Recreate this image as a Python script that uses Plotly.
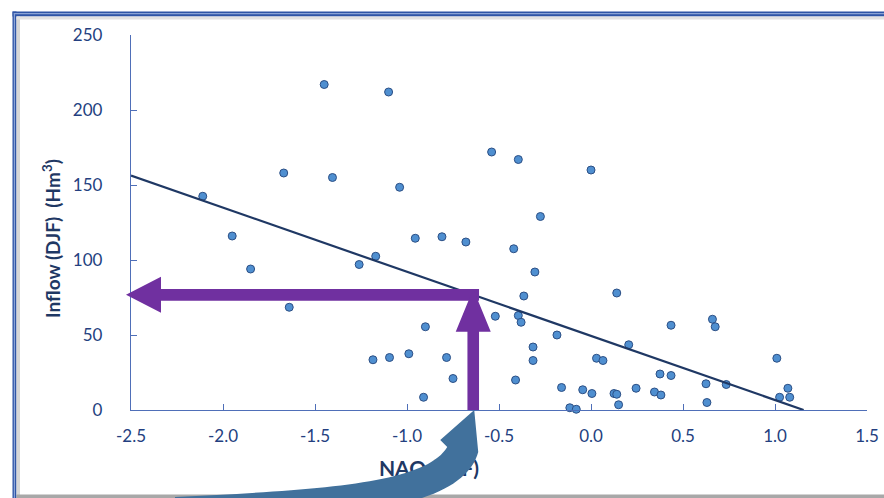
import plotly.graph_objects as go

# ---- data ----
nao = [-2.11, -1.95, -1.85, -1.64, -1.67, -1.45, -1.405, -1.10, -1.04, -0.54,
       -0.395, 0.0, -0.275, -0.955, -0.81, -0.68, -0.42, -1.26, -1.17, -0.305,
       -0.365, -0.52, -0.395, -0.38, -0.185, -0.90, -1.185, -1.095, -0.99, -0.785,
       -0.315, -0.315, 0.03, -0.75, -0.41, -0.91, -0.16, -0.045, 0.005, -0.115,
       -0.08, 0.14, 0.435, 0.66, 0.675, 0.205, 0.065, 1.01, 0.375, 0.435,
       0.625, 0.735, 0.245, 0.345, 0.38, 0.125, 0.14, 0.15, 0.63, 1.07,
       1.025, 1.08]
inflow = [142.5, 116, 94, 68.5, 158, 217, 155, 212, 148.5, 172,
          167, 160, 129, 114.5, 115.5, 112, 107.5, 97, 102.5, 92,
          76, 62.5, 63, 58.5, 50, 55.5, 33.5, 35, 37.5, 35,
          42, 33, 34.5, 21, 20, 8.5, 15, 13.5, 11, 1.5,
          0.5, 78, 56.5, 60.5, 55.5, 43.5, 33, 34.5, 24, 23,
          17.5, 17, 14.5, 12, 10, 11, 10.5, 3.5, 5, 14.5,
          8.5, 8.5]
trend_intercept = 49.4
trend_slope = -42.75
example_nao = -0.64
x_ticks = [-2.5, -2.0, -1.5, -1.0, -0.5, 0.0, 0.5, 1.0, 1.5]
y_ticks = [0, 50, 100, 150, 200, 250]

X_RANGE = [-2.5, 1.5]
Y_RANGE = [0, 250]
W, H = 884, 498
L, R, T, B = 131, 17, 35, 88
PW, PH = W - L - R, H - T - B

def px_x(px):
    return (px - L) / PW

def px_y(py):
    return (T + PH - py) / PH

def data_to_px(x, y):
    px = L + (x - X_RANGE[0]) / (X_RANGE[1] - X_RANGE[0]) * PW
    py = T + PH - (y - Y_RANGE[0]) / (Y_RANGE[1] - Y_RANGE[0]) * PH
    return px, py

def pt(p):
    return f"{px_x(p[0]):.5f},{px_y(p[1]):.5f}"

def path(cmds):
    s = []
    for c, pts in cmds:
        if c == "C":
            for i in range(0, len(pts), 3):
                s.append("C" + " ".join(pt(p) for p in pts[i:i + 3]))
        else:
            for i, p in enumerate(pts):
                s.append((c if i == 0 or c != "M" else "L") + pt(p))
    return " ".join(s) + " Z"

def trend(x):
    return trend_intercept + trend_slope * x

TICK_COLOR = "#243F80"
AXIS_COLOR = "#4F6FB8"
TITLE_COLOR = "#1F3864"
PURPLE = "#7030A0"
STEEL = "#41719C"

fig = go.Figure()
fig.add_trace(go.Scatter(
    x=nao, y=inflow, mode="markers",
    marker=dict(size=8, color="#4F8FD0", line=dict(color="#2C4F85", width=1)),
    cliponaxis=False, hoverinfo="x+y"))
x_end = -trend_intercept / trend_slope
fig.add_trace(go.Scatter(
    x=[X_RANGE[0], x_end], y=[trend(X_RANGE[0]), 0], mode="lines",
    line=dict(color=TITLE_COLOR, width=2.2), hoverinfo="skip"))

shapes = []
# frame
def rect(x0, y0, x1, y1, color):
    return dict(type="rect", xref="paper", yref="paper", layer="above",
                x0=px_x(x0), x1=px_x(x1), y0=px_y(y1), y1=px_y(y0),
                fillcolor=color, line=dict(width=0))

shapes.append(rect(12.5, 11.5, 16.5, 498, "#2F55A6"))
shapes.append(rect(12.5, 11.5, 884, 16.5, "#2F55A6"))
shapes.append(rect(13.8, 13, 15, 498, "#8AA3D6"))
shapes.append(rect(13.8, 13, 884, 14.2, "#8AA3D6"))
shapes.append(rect(16.5, 16.5, 20, 495, "#D6D6D6"))
shapes.append(rect(16.5, 16.5, 884, 19.5, "#E2E2E2"))
shapes.append(rect(16.5, 494.5, 884, 498, "#A8A8A8"))

# x-axis title (as a shape label so that the blue arrow can cover it)
shapes.append(dict(type="rect", xref="paper", yref="paper", layer="above",
                   x0=px_x(370), x1=px_x(488), y0=px_y(480), y1=px_y(454),
                   line=dict(width=0), fillcolor="rgba(0,0,0,0)",
                   label=dict(text="<b>NAO (DJF)</b>", textposition="middle center",
                              font=dict(family="Lato", size=21, color=TITLE_COLOR))))

# purple arrows
cx, cy = data_to_px(example_nao, trend(example_nao))
ax0, ay0 = data_to_px(X_RANGE[0], 0)
hb = 5.8  # half bar thickness
shapes.append(dict(type="path", xref="paper", yref="paper", layer="above",
                   fillcolor=PURPLE, line=dict(width=0),
                   path=path([("M", [(ax0 - 5, cy)]),
                              ("L", [(ax0 + 30, cy - 18), (ax0 + 30, cy - hb),
                                     (cx + hb, cy - hb), (cx + hb, cy + hb),
                                     (ax0 + 30, cy + hb), (ax0 + 30, cy + 18)])])))
shapes.append(dict(type="path", xref="paper", yref="paper", layer="above",
                   fillcolor=PURPLE, line=dict(width=0),
                   path=path([("M", [(cx, cy - hb)]),
                              ("L", [(cx + 17.5, cy + 37), (cx + hb, cy + 37),
                                     (cx + hb, ay0), (cx - hb, ay0),
                                     (cx - hb, cy + 37), (cx - 17.5, cy + 37)])])))

# steel-blue curved arrow
shapes.append(dict(type="path", xref="paper", yref="paper", layer="above",
                   fillcolor=STEEL, line=dict(width=0),
                   path=path([("M", [(cx + 1, ay0)]),
                              ("L", [(cx + 5, ay0 + 42)]),
                              ("C", [(cx - 2, ay0 + 68), (cx - 32, ay0 + 88), (cx - 94, ay0 + 98)]),
                              ("L", [(175, 508), (175, 497)]),
                              ("C", [(320, 490), (425, 484), (cx - 26, ay0 + 37)]),
                              ("L", [(cx - 33, ay0 + 30)])])))

fig.update_layout(
    width=W, height=H, autosize=False,
    margin=dict(l=L, r=R, t=T, b=B),
    paper_bgcolor="white", plot_bgcolor="white",
    showlegend=False,
    shapes=shapes,
    xaxis=dict(range=X_RANGE, tickvals=x_ticks, ticktext=[f"{v:.1f}" for v in x_ticks],
               showgrid=False, zeroline=False, showline=True, automargin=False,
               linecolor=AXIS_COLOR, linewidth=1.3, ticks="inside", ticklen=6,
               tickcolor=AXIS_COLOR, tickwidth=1.3, ticklabelstandoff=10,
               tickfont=dict(family="Lato", size=17, color=TICK_COLOR)),
    yaxis=dict(range=Y_RANGE, tickvals=y_ticks,
               showgrid=False, zeroline=False, showline=True, automargin=False,
               linecolor=AXIS_COLOR, linewidth=1.3, ticks="inside", ticklen=6,
               tickcolor=AXIS_COLOR, tickwidth=1.3, ticklabelstandoff=24,
               tickfont=dict(family="Lato", size=17, color=TICK_COLOR)),
    annotations=[dict(text="<b>Inflow (DJF)  (Hm<sup>3</sup>)</b>", textangle=-90,
                      xref="paper", yref="paper", x=px_x(51), y=px_y(239),
                      xanchor="center", yanchor="middle", showarrow=False,
                      font=dict(family="Lato", size=19, color=TITLE_COLOR))],
)

fig.write_html("out.html", config={"displayModeBar": False, "responsive": False},
               post_script="document.body.style.margin='0';document.body.style.overflow='hidden';")
